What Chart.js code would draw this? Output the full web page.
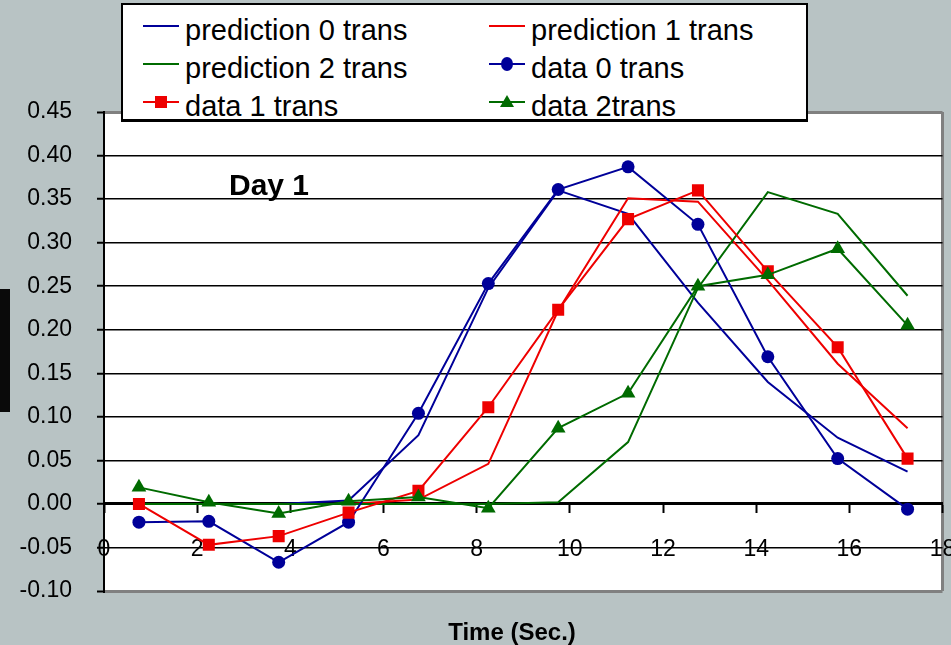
<!DOCTYPE html>
<html>
<head>
<meta charset="utf-8">
<title>Day 1</title>
<script src="https://cdn.jsdelivr.net/npm/chart.js@4.4.1/dist/chart.umd.min.js"></script>
<style>
  html, body { margin: 0; padding: 0; background: #B8C3C4; }
  #stage { position: relative; width: 951px; height: 645px; overflow: hidden;
           font-family: "Liberation Sans", Arial, sans-serif; color: #000; }
  #chart { position: absolute; left: 0; top: 0; }
  #legend { position: absolute; left: 121px; top: 3px; width: 687px; height: 119px;
            box-sizing: border-box; background: #fff; border: 2px solid #000; border-bottom-width: 3px; }
  .item { position: absolute; }
  .item svg { position: absolute; left: 0; top: 0; overflow: visible; }
  .item span { position: absolute; white-space: nowrap; font-size: 29px; line-height: 30px; }
  #dayLabel { position: absolute; left: 229px; top: 170px; font-weight: bold; font-size: 30px; line-height: 30px; white-space: nowrap; }
  #xTitle { position: absolute; left: 362px; width: 300px; top: 620px; text-align: center;
            font-weight: bold; font-size: 24px; line-height: 24px; white-space: nowrap; }
  #sideBar { position: absolute; left: 0; top: 289px; width: 10px; height: 123px; background: #0a0a0a; }
</style>
</head>
<body>
<div id="stage">
  <canvas id="chart" width="951" height="645"></canvas>
  <div id="sideBar"></div>
  <div id="legend"></div>
  <div id="dayLabel">Day 1</div>
  <div id="xTitle">Time (Sec.)</div>
</div>
<script>
// Sampling times (s)
const time = [0.75, 2.25, 3.75, 5.25, 6.75, 8.25, 9.75, 11.25, 12.75, 14.25, 15.75, 17.25];

// Model predictions
const pred0 = [0.000, 0.000, 0.000, 0.004, 0.079, 0.248, 0.360, 0.333, 0.231, 0.140, 0.076, 0.037];
const pred1 = [0.000, 0.000, 0.000, 0.000, 0.005, 0.046, 0.222, 0.351, 0.347, 0.257, 0.161, 0.087];
const pred2 = [0.000, 0.000, 0.000, 0.000, 0.000, 0.000, 0.002, 0.071, 0.248, 0.358, 0.333, 0.239];

// Measured data
const data0 = [-0.021, -0.020, -0.067, -0.021, 0.104, 0.253, 0.361, 0.387, 0.321, 0.169, 0.052, -0.006];
const data1 = [0.000, -0.047, -0.037, -0.010, 0.015, 0.111, 0.223, 0.327, 0.360, 0.267, 0.180, 0.052];
const data2 = [0.019, 0.002, -0.011, 0.003, 0.008, -0.005, 0.087, 0.127, 0.250, 0.263, 0.293, 0.205];

const seriesNames = ['prediction 0 trans', 'prediction 1 trans', 'prediction 2 trans',
                     'data 0 trans', 'data 1 trans', 'data 2trans'];

// Axis ranges and tick steps
const xRange = [0, 18], xStep = 2;
const yRange = [-0.10, 0.45], yStep = 0.05;

const BLUE = '#000099', RED = '#EE0000', GREEN = '#006B00';
const FONT_FAMILY = "'Liberation Sans', Arial, sans-serif";

const points = ys => time.map((t, i) => ({ x: t, y: ys[i] }));

function lineSeries(label, ys, color, order) {
  return { label, data: points(ys), borderColor: color, backgroundColor: color,
           borderWidth: 2, pointRadius: 0, showLine: true, tension: 0, order };
}
function markerSeries(label, ys, color, style, radius, order) {
  return { label, data: points(ys), borderColor: color, backgroundColor: color,
           borderWidth: 2, pointStyle: style, pointRadius: radius, pointBorderWidth: 0,
           pointHoverRadius: radius, showLine: true, tension: 0, order };
}

// later series sit on top (lower order is drawn last)
const datasets = [
  lineSeries(seriesNames[0], pred0, BLUE, 6),
  lineSeries(seriesNames[1], pred1, RED, 5),
  lineSeries(seriesNames[2], pred2, GREEN, 4),
  markerSeries(seriesNames[3], data0, BLUE, 'circle', 6.5, 3),
  markerSeries(seriesNames[4], data1, RED, 'rect', 8.5, 2),
  markerSeries(seriesNames[5], data2, GREEN, 'triangle', 8.5, 1)
];

const near = (a, b) => Math.abs(a - b) < 1e-6;
const isFrame = v => near(v, yRange[0]) || near(v, yRange[1]);

// white plot area
const plotBackground = {
  id: 'plotBackground',
  beforeDraw(chart) {
    const { ctx, chartArea: a } = chart;
    ctx.save();
    ctx.fillStyle = '#ffffff';
    ctx.fillRect(a.left, a.top, a.right - a.left, a.bottom - a.top);
    ctx.restore();
  }
};

const chart = new Chart(document.getElementById('chart'), {
  type: 'scatter',
  data: { datasets },
  options: {
    responsive: false,
    animation: false,
    events: [],
    layout: { padding: { left: 0, right: 8, top: 112, bottom: 54 } },
    plugins: { legend: { display: false }, tooltip: { enabled: false }, title: { display: false } },
    scales: {
      x: {
        type: 'linear', min: xRange[0], max: xRange[1], position: { y: 0 },
        ticks: { stepSize: xStep, autoSkip: false, maxRotation: 0, padding: 24, color: '#000',
                 font: { family: FONT_FAMILY, size: 23 } },
        grid: {
          drawOnChartArea: true, drawTicks: true, tickLength: 8, tickColor: '#000', tickWidth: 2,
          color: c => (c.tick && near(c.tick.value, xRange[1])) ? '#808080' : 'rgba(0,0,0,0)',
          lineWidth: c => (c.tick && near(c.tick.value, xRange[1])) ? 3 : 1
        },
        border: { display: true, color: '#000', width: 3 },
        afterFit(scale) { scale.paddingLeft = 0; scale.paddingRight = 0; }
      },
      y: {
        type: 'linear', min: yRange[0], max: yRange[1], position: 'left',
        ticks: { stepSize: yStep, padding: 25, color: '#000', autoSkip: false,
                 font: { family: FONT_FAMILY, size: 23 },
                 callback: v => v.toFixed(2) },
        grid: {
          drawTicks: true, tickLength: 7, tickColor: '#000', tickWidth: 2,
          color: c => (c.tick && isFrame(c.tick.value)) ? '#808080' : '#000',
          lineWidth: c => (c.tick && isFrame(c.tick.value)) ? 3 : 1.5
        },
        border: { display: true, color: '#000', width: 2 },
        afterFit(scale) { scale.width = 104; scale.paddingTop = 0; scale.paddingBottom = 0; }
      }
    }
  },
  plugins: [plotBackground]
});

// Legend built from the chart's own datasets, two columns, row by row
(function buildLegend() {
  const box = document.getElementById('legend');
  const colX = [20, 366];      // sample start inside the box
  const textDX = 42;           // text offset from sample start
  const rowY = [21, 59, 97];   // sample line centre inside the box
  const NS = 'http://www.w3.org/2000/svg';
  chart.data.datasets.forEach((ds, i) => {
    const row = Math.floor(i / 2), col = i % 2;
    const item = document.createElement('div');
    item.className = 'item';
    item.style.left = colX[col] + 'px';
    item.style.top = (rowY[row] - 10) + 'px';
    const svg = document.createElementNS(NS, 'svg');
    svg.setAttribute('width', '36'); svg.setAttribute('height', '20');
    const ln = document.createElementNS(NS, 'line');
    ln.setAttribute('x1', '0'); ln.setAttribute('x2', '36');
    ln.setAttribute('y1', '10'); ln.setAttribute('y2', '10');
    ln.setAttribute('stroke', ds.borderColor); ln.setAttribute('stroke-width', '2');
    svg.appendChild(ln);
    let mk = null;
    if (ds.pointStyle === 'circle') {
      mk = document.createElementNS(NS, 'ellipse');
      mk.setAttribute('cx', '18'); mk.setAttribute('cy', '10');
      mk.setAttribute('rx', '6'); mk.setAttribute('ry', '7');
    } else if (ds.pointStyle === 'rect') {
      mk = document.createElementNS(NS, 'rect');
      mk.setAttribute('x', '12'); mk.setAttribute('y', '4');
      mk.setAttribute('width', '12'); mk.setAttribute('height', '12');
    } else if (ds.pointStyle === 'triangle') {
      mk = document.createElementNS(NS, 'polygon');
      mk.setAttribute('points', '18,3 25,15 11,15');
    }
    if (mk) { mk.setAttribute('fill', ds.backgroundColor); svg.appendChild(mk); }
    item.appendChild(svg);
    const txt = document.createElement('span');
    txt.textContent = ds.label;
    txt.style.left = textDX + 'px';
    txt.style.top = '-1px';
    item.appendChild(txt);
    box.appendChild(item);
  });
})();
</script>
</body>
</html>
